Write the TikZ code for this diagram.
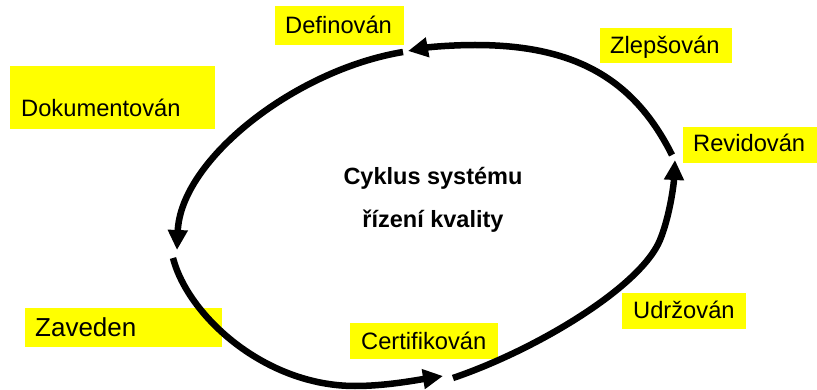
\documentclass[tikz,border=0pt]{standalone}
\usepackage{fontspec}
\setmainfont{Liberation Sans}
\usetikzlibrary{arrows.meta}
\definecolor{lblyellow}{HTML}{FFFF00}
\begin{document}
\begin{tikzpicture}[x=1pt,y=-1pt,
  cyc/.style={line width=6.5pt, -{Triangle[length=20pt,width=19pt]}},
  lbl/.style={anchor=base west, inner sep=0pt, font=\fontsize{23.7}{28}\selectfont},
  lblbig/.style={anchor=base west, inner sep=0pt, font=\fontsize{26}{31}\selectfont},
  ctr/.style={anchor=base, inner sep=0pt, font=\fontsize{23.5}{28}\selectfont\bfseries},
  boxfill/.style={fill=lblyellow}]
\useasboundingbox (0,0) rectangle (817,390);

% yellow label boxes
\fill[boxfill] (275,6) rectangle (404,45);
\fill[boxfill] (10,66) rectangle (215,129);
\fill[boxfill] (600,28) rectangle (732,63);
\fill[boxfill] (683,127) rectangle (817,163);
\fill[boxfill] (25,308) rectangle (222,347);
\fill[boxfill] (350,323) rectangle (498,359);
\fill[boxfill] (622,293) rectangle (746,329);

% labels
\node[lbl] (def) at (285,34) {Definován};
\node[lbl] (dok) at (21,117) {Dokumentován};
\node[lbl] (zle) at (610,54) {Zlepšován};
\node[lbl] (rev) at (693,152) {Revidován};
\node[lblbig] (zav) at (35,336) {Zaveden};
\node[lbl] (cer) at (361,349) {Certifikován};
\node[lbl] (udr) at (633,319) {Udržován};

% centre
\node[ctr] (c1) at (433,185) {Cyklus systému};
\node[ctr] (c2) at (433,228) {řízení kvality};

% cycle arcs
\coordinate (r0) at (672,155);
\coordinate (t1) at (408,51);
\coordinate (t0) at (403,52);
\coordinate (l1) at (177,250);
\coordinate (l0) at (173,258);
\coordinate (b1) at (443,376);
\coordinate (b0) at (453,378);
\coordinate (r1) at (675,160);
\draw[cyc] (r0) .. controls (634,79) and (575,45) .. (475,45) .. controls (453,45) and (429.6,47) .. (t1);
\draw[cyc] (t0) .. controls (294.5,70) and (180.6,160) .. (l1);
\draw[cyc] (l0) .. controls (188,316) and (265,386) .. (355,386) .. controls (385,386) and (413.4,380.6) .. (b1);
\draw[cyc] (b0) .. controls (538.2,349) and (641,286.3) .. (660,240) .. controls (669.5,216.9) and (673.75,185) .. (r1);
\end{tikzpicture}
\end{document}
